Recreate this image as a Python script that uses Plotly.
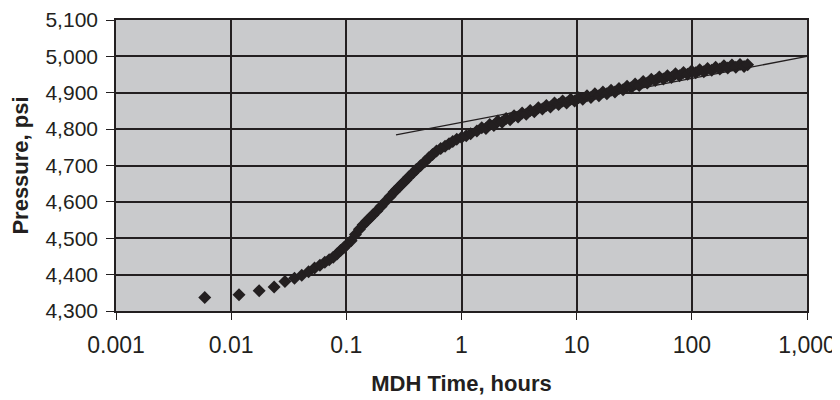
import plotly.graph_objects as go

# MDH data (time in hours, pressure in psi)
time_hours = [
    0.0059, 0.0117, 0.0175, 0.0236, 0.0293, 0.0355, 0.041, 0.047, 0.053, 0.059,
    0.065, 0.071, 0.077, 0.083, 0.089, 0.095, 0.101, 0.11, 0.12, 0.13,
    0.14, 0.15, 0.16, 0.17, 0.184, 0.2, 0.22, 0.24, 0.26, 0.273,
    0.29, 0.31, 0.33, 0.35, 0.38, 0.405, 0.44, 0.48, 0.52, 0.56,
    0.607, 0.66, 0.72, 0.78, 0.84, 0.91, 1.0, 1.1, 1.2, 1.36,
    1.5, 1.63, 1.76, 1.91, 2.07, 2.25, 2.44, 2.64, 2.86, 3.1,
    3.36, 3.65, 3.95, 4.29, 4.65, 5.04, 5.46, 5.92, 6.42, 6.96,
    7.55, 8.18, 8.87, 9.6, 10.4, 11.3, 12.3, 13.3, 14.4, 15.6,
    16.9, 18.3, 19.9, 21.5, 23.3, 25.3, 27.4, 29.7, 32.2, 34.9,
    37.8, 41.0, 44.5, 48.2, 52.2, 56.6, 61.4, 66.5, 72.1, 78.2,
    84.7, 91.8, 99.5, 108.0, 117.0, 127.0, 137.0, 149.0, 161.0, 175.0,
    190.0, 205.0, 223.0, 241.0, 262.0, 284.0, 305.0,
]
pressure_psi = [
    4337, 4345, 4356, 4366, 4381, 4390, 4398, 4408, 4418, 4426,
    4434, 4441, 4448, 4457, 4466, 4474, 4482, 4493, 4510, 4525,
    4537, 4547, 4556, 4564, 4575, 4587, 4602, 4615, 4627, 4634,
    4642, 4652, 4660, 4669, 4680, 4689, 4699, 4710, 4721, 4730,
    4740, 4747, 4753, 4760, 4766, 4772, 4777, 4782, 4787, 4795,
    4804, 4802, 4813, 4810, 4822, 4819, 4829, 4826, 4837, 4833,
    4844, 4841, 4851, 4848, 4859, 4855, 4865, 4861, 4872, 4868,
    4877, 4872, 4882, 4877, 4886, 4882, 4892, 4887, 4897, 4892,
    4902, 4897, 4907, 4902, 4912, 4908, 4918, 4914, 4924, 4920,
    4931, 4927, 4937, 4934, 4943, 4938, 4947, 4942, 4952, 4947,
    4956, 4951, 4960, 4955, 4963, 4958, 4967, 4962, 4970, 4965,
    4974, 4968, 4976, 4970, 4978, 4972, 4977,
]

# Semilog straight line
line_time = [0.27, 1000]
line_pressure = [4784, 5000]

x_tick_vals = [0.001, 0.01, 0.1, 1, 10, 100, 1000]
x_tick_text = ["0.001", "0.01", "0.1", "1", "10", "100", "1,000"]
y_tick_vals = [4300, 4400, 4500, 4600, 4700, 4800, 4900, 5000, 5100]

ink = "#231f20"
font_family = "Liberation Sans, Arial, sans-serif"

fig = go.Figure()
fig.add_trace(go.Scatter(
    x=time_hours, y=pressure_psi, mode="markers",
    marker=dict(symbol="diamond", size=10, color=ink, line=dict(width=0)),
    showlegend=False, cliponaxis=False,
))
fig.add_trace(go.Scatter(
    x=line_time, y=line_pressure, mode="lines",
    line=dict(color=ink, width=1.3),
    showlegend=False,
))

# the page body adds an 8px offset, margins compensate for it
fig.update_layout(
    width=840, height=400,
    margin=dict(l=108, r=41, t=12, b=97, autoexpand=False),
    paper_bgcolor="white",
    plot_bgcolor="#c9cacc",
    font=dict(family=font_family, size=21, color=ink),
    xaxis=dict(
        type="log", range=[-3, 3], automargin=False,
        tickvals=x_tick_vals, ticktext=x_tick_text,
        tickfont=dict(size=23),
        showgrid=True, gridcolor=ink, gridwidth=1.6,
        showline=True, linecolor=ink, linewidth=1.6, mirror=True,
        ticks="outside", ticklen=7, tickcolor=ink, tickwidth=1,
        ticklabelstandoff=6,
        zeroline=False,
        title=dict(text="<b>MDH Time, hours</b>", font=dict(size=22), standoff=18),
    ),
    yaxis=dict(
        range=[4300, 5100], automargin=False,
        tickvals=y_tick_vals, tickformat=",d",
        tickfont=dict(size=21),
        showgrid=True, gridcolor=ink, gridwidth=1.6,
        showline=True, linecolor=ink, linewidth=1.6, mirror=True,
        ticks="outside", ticklen=8, tickcolor=ink, tickwidth=1,
        ticklabelstandoff=4,
        zeroline=False,
        title=dict(text="<b>Pressure, psi</b>", font=dict(size=22), standoff=16),
    ),
)

fig.write_html("out.html")
